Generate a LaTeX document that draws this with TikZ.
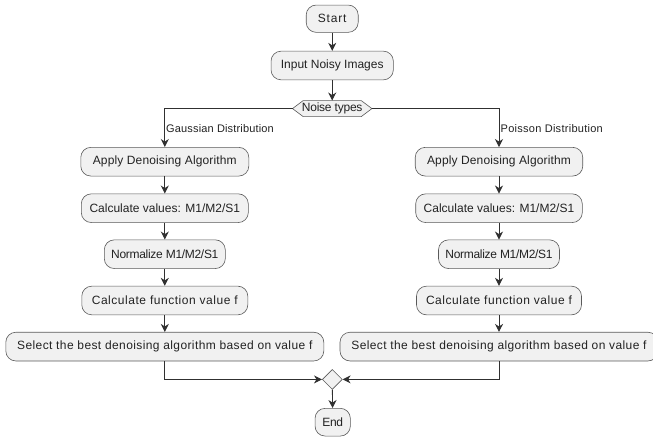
\documentclass[tikz,border=0pt]{standalone}
\usepackage{fontspec}
\setmainfont{Liberation Sans}
\usetikzlibrary{arrows.meta,shapes.geometric}
\definecolor{boxfill}{HTML}{F1F1F1}
\definecolor{boxline}{HTML}{5A5A5A}
\definecolor{lineclr}{HTML}{303030}
\definecolor{txt}{HTML}{222222}
\begin{document}
\begin{tikzpicture}[x=1pt,y=-1pt,
  act/.style={draw=boxline, fill=boxfill, line width=0.6pt, rounded corners=10pt,
    minimum height=28.7pt, inner sep=0pt, text=txt, font=\fontsize{12}{14}\selectfont},
  ls/.style={execute at begin node={\addfontfeatures{LetterSpace=#1}}},
  lbl/.style={anchor=west, inner sep=0pt, text=txt, font=\fontsize{11}{13}\selectfont},
  arr/.style={draw=lineclr, line width=0.9pt, -{Stealth[length=8pt,width=8pt,inset=2.5pt]}},
  lin/.style={draw=lineclr, line width=0.9pt}]
\useasboundingbox (0,0) rectangle (653,439);
\fill[white] (0,0) rectangle (653,439);

\node[act, ls=7, minimum width=52pt, minimum height=27.3pt] (start) at (332.2,18.7) {Start};
\node[act, minimum width=122.3pt] (input) at (332.2,65.5) {Input Noisy Images};
\node[minimum width=57.6pt, minimum height=15.7pt, inner sep=0pt] (nt) at (332.2,108.6) {};
\draw[draw=boxline, fill=boxfill, line width=0.6pt]
  (nt.north west) -- (nt.north east) -- ([xshift=10.7pt]nt.east) -- (nt.south east)
  -- (nt.south west) -- ([xshift=-10.7pt]nt.west) -- cycle;
\node[inner sep=0pt, text=txt, ls=-2, font=\fontsize{12}{14}\selectfont] (ntt) at (nt) {Noise types};
\coordinate (ntl) at ([xshift=-10.7pt]nt.west);
\coordinate (ntr) at ([xshift=10.7pt]nt.east);

% left column
\node[act, ls=1.2, minimum width=168pt] (ga) at (164.8,161.7) {Apply Denoising Algorithm};
\node[act, minimum width=167pt] (gc) at (164.8,208.2) {Calculate values: M1/M2/S1};
\node[act, ls=-2.5, minimum width=121pt] (gn) at (164.8,254.2) {Normalize M1/M2/S1};
\node[act, ls=4.5, minimum width=166pt] (gf) at (164.8,300.5) {Calculate function value f};
\node[act, ls=3.3, minimum width=318pt] (gs) at (164.8,346.6) {Select the best denoising algorithm based on value f};

% right column
\node[act, ls=1.2, minimum width=167.5pt] (pa) at (499,161.7) {Apply Denoising Algorithm};
\node[act, minimum width=166.6pt] (pc) at (499,208.2) {Calculate values: M1/M2/S1};
\node[act, ls=-2.5, minimum width=121pt] (pn) at (499,254.2) {Normalize M1/M2/S1};
\node[act, ls=4.5, minimum width=165pt] (pf) at (499,300.5) {Calculate function value f};
\node[act, ls=3.3, minimum width=318pt] (ps) at (499,346.6) {Select the best denoising algorithm based on value f};

\node[diamond, draw=boxline, fill=boxfill, line width=0.6pt, minimum width=20pt,
  minimum height=20pt, inner sep=0pt, aspect=1] (dm) at (332.3,379.4) {};
\node[act, ls=-2, minimum width=35.3pt, minimum height=27.7pt] (end) at (332.7,422.2) {End};

% connectors
\draw[arr] (start) -- (input);
\draw[arr] (input) -- (nt);
\draw[arr] (ntl) -| (ga.north);
\draw[arr] (ntr) -| (pa.north);
\node[lbl, ls=1.5] (gl) at (166,128.3) {Gaussian Distribution};
\node[lbl, ls=2.5] (pl) at (500.5,128.3) {Poisson Distribution};
\draw[arr] (ga) -- (gc);
\draw[arr] (gc) -- (gn);
\draw[arr] (gn) -- (gf);
\draw[arr] (gf) -- (gs);
\draw[arr] (pa) -- (pc);
\draw[arr] (pc) -- (pn);
\draw[arr] (pn) -- (pf);
\draw[arr] (pf) -- (ps);
\draw[arr] (gs.south) |- (dm.west);
\draw[arr] (ps.south) |- (dm.east);
\draw[arr] (dm) -- (end);
\end{tikzpicture}
\end{document}
